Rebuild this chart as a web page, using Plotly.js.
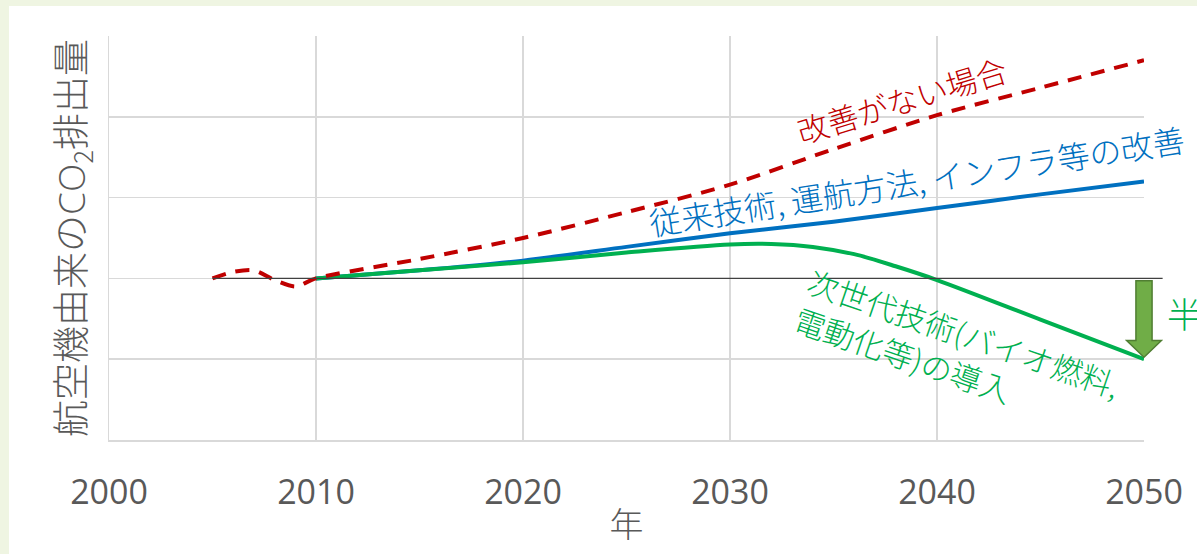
<!DOCTYPE html>
<html>
<head>
<meta charset="utf-8">
<script src="https://cdn.plot.ly/plotly-3.0.1.min.js"></script>
<style>
html,body{margin:0;padding:0;background:#eff5e2;width:1197px;height:554px;overflow:hidden;}
#chart{position:absolute;left:9px;top:6px;width:1188px;height:548px;}
</style>
</head>
<body>
<div id="chart"></div>
<script>
// ---- data ----
const xTickVals = [2000, 2010, 2020, 2030, 2040, 2050];
const xTickText = ['2000', '2010', '2020', '2030', '2040', '2050'];

const noImproveYears  = [2005, 2006, 2007, 2008, 2009, 2010, 2015, 2020, 2025, 2030, 2035, 2040, 2045, 2050];
const noImproveValues = [100, 104, 105, 99, 95, 100, 112, 125, 141, 158, 180, 201, 218, 235];

const conventionalYears  = [2010, 2015, 2020, 2025, 2030, 2035, 2040, 2045, 2050];
const conventionalValues = [100, 105, 111, 119.5, 128, 135, 143.5, 152, 160];

const nextGenYears  = [2010, 2015, 2020, 2025, 2030, 2032, 2034, 2036, 2038, 2040, 2045, 2050];
const nextGenValues = [100, 105, 110, 116, 121, 121.3, 119.5, 115, 107.5, 99, 74.5, 50];

const baselineValue = 100;
const baselineStartYear = 2005;
const baselineEndYear = 2050.9;

const labelNoImprove    = '改善がない場合';
const labelConventional = '従来技術, 運航方法, インフラ等の改善';
const labelNextGen      = '次世代技術(バイオ燃料,<br>電動化等)の導入';
const labelHalf         = '半減';
const yTitle = '航空機由来の<span style="font-family:Open Sans">CO</span><sub>2</sub>排出量';
const xTitle = '年';

// ---- styles ----
const RED = '#c00000', BLUE = '#0070c0', GREEN = '#00b050', GRAY = '#595959';
const X0 = 2000, X1 = 2050;
const toPaperX = yr => (yr - X0) / (X1 - X0);

const traces = [
  {x: conventionalYears, y: conventionalValues, mode: 'lines', type: 'scatter',
   line: {color: BLUE, width: 4, shape: 'spline', smoothing: 0.8}, hoverinfo: 'skip'},
  {x: nextGenYears, y: nextGenValues, mode: 'lines', type: 'scatter',
   line: {color: GREEN, width: 4, shape: 'spline', smoothing: 0.9}, hoverinfo: 'skip'},
  {x: noImproveYears, y: noImproveValues, mode: 'lines', type: 'scatter',
   line: {color: RED, width: 4, dash: '14px,10px', shape: 'spline', smoothing: 0.8}, hoverinfo: 'skip'}
];

// block arrow (baseline -> last next-gen value at the last year), paper x so it is not clipped
const axp = toPaperX(nextGenYears[nextGenYears.length - 1]);
const aTop = baselineValue - 1.5;
const aEnd = nextGenValues[nextGenValues.length - 1];
const bodyHW = 0.0078, headHW = 0.0168;
const headStart = aEnd + 11.5, tip = aEnd + 1.2;
const arrowPath = `M ${axp-bodyHW},${aTop} L ${axp+bodyHW},${aTop} L ${axp+bodyHW},${headStart} L ${axp+headHW},${headStart} L ${axp},${tip} L ${axp-headHW},${headStart} L ${axp-bodyHW},${headStart} Z`;

const annFont = (c, s) => ({family: 'Noto Sans CJK JP', size: s, color: c, weight: 300});

const layout = {
  width: 1188, height: 548,
  margin: {l: 100, r: 53, t: 30, b: 114},
  paper_bgcolor: '#ffffff', plot_bgcolor: '#ffffff',
  showlegend: false,
  font: {family: 'Open Sans, Noto Sans CJK JP', color: GRAY},
  xaxis: {
    range: [X0, X1], tickvals: xTickVals, ticktext: xTickText,
    showgrid: true, gridcolor: '#d9d9d9', gridwidth: 1.5,
    zeroline: false, showline: true, linecolor: '#d9d9d9', linewidth: 1.5,
    ticks: 'outside', ticklen: 22, tickcolor: 'rgba(0,0,0,0)',
    tickfont: {family: 'Open Sans', size: 34, color: GRAY},
    title: {text: xTitle, standoff: 0, font: {family: 'Noto Sans CJK JP', size: 34, color: GRAY, weight: 300}},
    fixedrange: true
  },
  yaxis: {
    range: [0, 250], tickvals: [0, 50, 100, 150, 200, 250],
    showticklabels: false, ticks: '',
    showgrid: true, gridcolor: '#d9d9d9', gridwidth: 1.5,
    zeroline: false, showline: true, linecolor: '#d9d9d9', linewidth: 1.5,
    title: {text: yTitle, standoff: 10, font: {family: 'Noto Sans CJK JP', size: 37, color: GRAY, weight: 300}},
    fixedrange: true
  },
  shapes: [
    {type: 'line', xref: 'paper', yref: 'y', layer: 'above',
     x0: toPaperX(baselineStartYear), x1: toPaperX(baselineEndYear), y0: baselineValue, y1: baselineValue,
     line: {color: '#404040', width: 1.3}},
    {type: 'path', xref: 'paper', yref: 'y', layer: 'above', path: arrowPath,
     fillcolor: '#70ad47', line: {color: '#507e32', width: 1.5}}
  ],
  annotations: [
    {text: labelNoImprove, xref: 'x', yref: 'y', x: 2038.3, y: 211, showarrow: false,
     textangle: -17, font: annFont(RED, 31)},
    {text: labelConventional, xref: 'x', yref: 'y', x: 2039.0, y: 161, showarrow: false,
     textangle: -9, font: annFont(BLUE, 32)},
    {text: labelNextGen, xref: 'x', yref: 'y', x: 2041.0, y: 55, showarrow: false,
     textangle: 19, align: 'left', font: annFont(GREEN, 31)},
    {text: labelHalf, xref: 'paper', yref: 'y', x: 1.02, y: 79, xanchor: 'left', showarrow: false,
     font: annFont(GREEN, 35)}
  ]
};

Plotly.newPlot('chart', traces, layout, {staticPlot: true, displayModeBar: false});
</script>
</body>
</html>
